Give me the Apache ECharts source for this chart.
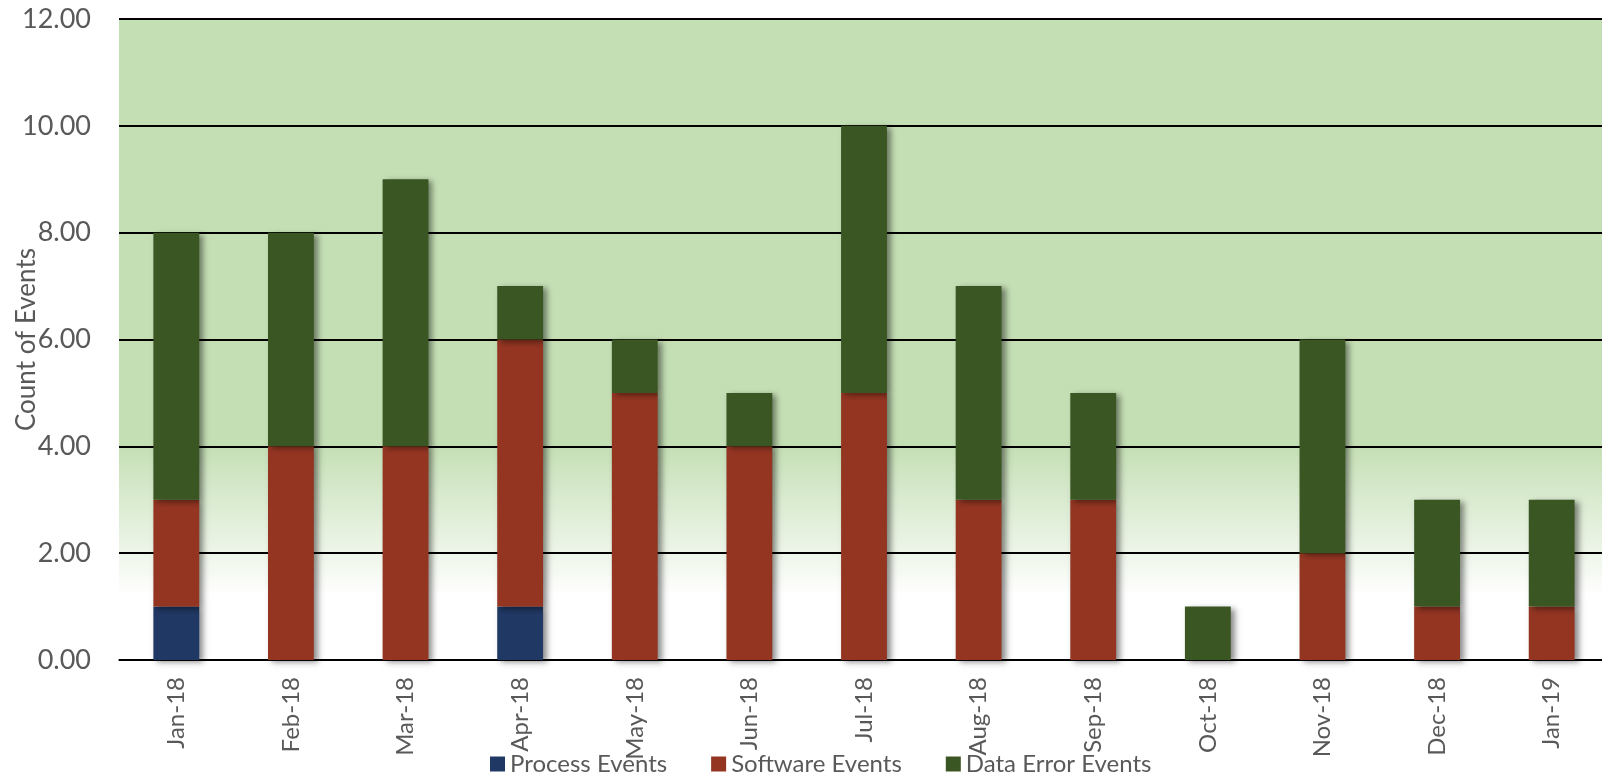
<!DOCTYPE html>
<html>
<head>
<meta charset="utf-8">
<script src="https://cdn.jsdelivr.net/npm/echarts@6/dist/echarts.min.js"></script>
<style>
html,body{margin:0;padding:0;background:#fff;}
#chart{width:1602px;height:778px;}
</style>
</head>
<body>
<div id="chart"></div>
<script>
const categories = ['Jan-18','Feb-18','Mar-18','Apr-18','May-18','Jun-18','Jul-18','Aug-18','Sep-18','Oct-18','Nov-18','Dec-18','Jan-19'];
const processEvents   = [1,0,0,1,0,0,0,0,0,0,0,0,0];
const softwareEvents  = [2,4,4,5,5,4,5,3,3,0,2,1,1];
const dataErrorEvents = [5,4,5,1,1,1,5,4,2,1,4,2,2];
const seriesNames = ['Process Events','Software Events','Data Error Events'];
const seriesColors = ['#203864','#943522','#3A5622'];
const yTicks = {min:0, max:12, interval:2};

const FONT = 'Lato, "Noto Sans", sans-serif';
const chart = echarts.init(document.getElementById('chart'));
const dataSets = [processEvents, softwareEvents, dataErrorEvents];

chart.setOption({
  animation:false,
  textStyle:{fontFamily:FONT},
  grid:{left:119, top:19, right:-7, bottom:118, show:true, borderWidth:0,
    outerBoundsMode:'none', containLabel:false,
    backgroundColor:new echarts.graphic.LinearGradient(0,0,0,1,[
      {offset:0,color:'#C5DFB5'},
      {offset:0.666,color:'#C5DFB5'},
      {offset:0.75,color:'#DAEBD0'},
      {offset:0.83,color:'#EDF5E8'},
      {offset:0.9,color:'#FFFFFF'},
      {offset:1,color:'#FFFFFF'}
    ])
  },
  legend:{
    top:752, left:490, itemWidth:15, itemHeight:15, itemGap:44,
    icon:'rect', padding:0,
    textStyle:{fontFamily:FONT, fontSize:24, color:'#595959'},
    data:seriesNames
  },
  xAxis:{
    type:'category', data:categories,
    axisLine:{show:true, lineStyle:{color:'#000', width:1.5}},
    axisTick:{show:false},
    axisLabel:{rotate:90, fontSize:24, color:'#595959', margin:17, fontFamily:FONT}
  },
  yAxis:{
    type:'value', min:yTicks.min, max:yTicks.max, interval:yTicks.interval,
    name:'Count of Events', nameLocation:'middle', nameGap:79, nameRotate:90,
    nameMoveOverlap:false,
    nameTextStyle:{fontSize:26, color:'#595959', fontFamily:FONT},
    axisLine:{show:false}, axisTick:{show:false},
    axisLabel:{fontSize:27, color:'#595959', margin:28, fontFamily:FONT,
      formatter:v=>v.toFixed(2)},
    splitLine:{lineStyle:{color:'#000', width:2}}
  },
  series:seriesNames.map((n,i)=>({
    name:n, type:'bar', stack:'total', barWidth:'40%',
    data:dataSets[i].map(v=>v===0?null:v),
    itemStyle:{color:seriesColors[i], shadowColor:'rgba(0,0,0,0.45)', shadowBlur:6, shadowOffsetX:4, shadowOffsetY:2}
  }))
});
</script>
</body>
</html>
